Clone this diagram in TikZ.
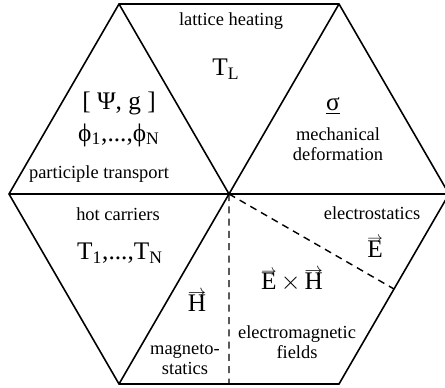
\documentclass[tikz,border=0pt]{standalone}
\usepackage{fontspec}
\setmainfont{Liberation Serif}
\usetikzlibrary{calc}
\newsavebox\vecbox
\newcommand{\fieldvec}[1]{\leavevmode\sbox\vecbox{#1}%
  \rlap{\raisebox{\dimexpr\ht\vecbox-1.2pt\relax}{\resizebox{\wd\vecbox}{!}{$\rightarrow$}}}\usebox\vecbox}
\tikzset{
  hexedge/.style={draw=black, line width=0.9pt, line join=miter},
  split/.style={draw=black, line width=0.8pt, dash pattern=on 4pt off 3pt},
  areatext/.style={font=\fontsize{10.5}{11.5}\selectfont, align=center, inner sep=0pt},
  symtext/.style={font=\Large, align=center, inner sep=0pt}
}
\begin{document}
\begin{tikzpicture}
  \useasboundingbox (0,0) rectangle (8.9,7.74);
  % hexagon corners and centre
  \coordinate (c) at (4.58,3.86);
  \coordinate (e) at (8.98,3.86);
  \coordinate (ne) at (6.78,7.66);
  \coordinate (nw) at (2.38,7.66);
  \coordinate (w) at (0.18,3.86);
  \coordinate (sw) at (2.38,0.06);
  \coordinate (se) at (6.78,0.06);
  \coordinate (sm) at ($(sw)!0.5!(se)$);
  \coordinate (sem) at ($(se)!0.5!(e)$);

  \draw[hexedge] (e) -- (ne) -- (nw) -- (w) -- (sw) -- (se) -- cycle;
  \draw[hexedge] (nw) -- (c) -- (ne);
  \draw[hexedge] (w) -- (e);
  \draw[hexedge] (sw) -- (c);
  \draw[split] (c) -- (sm);
  \draw[split] (c) -- (sem);

  % top
  \node[areatext] (latt) at (4.62,7.32) {lattice heating};
  \node[symtext] (tl) at (4.52,6.36) {T\textsubscript{L}};
  % upper left
  \node[symtext] (psi) at (2.38,5.68) {[ Ψ, g ]};
  \node[symtext] (phi) at (2.38,5.04) {ϕ\textsubscript{1},...,ϕ\textsubscript{N}};
  \node[areatext] (part) at (1.98,4.26) {participle transport};
  % upper right
  \node[symtext] (sig) at (6.66,5.62) {\underline{σ}};
  \node[areatext] (mech) at (6.76,4.86) {mechanical\\deformation};
  % lower left
  \node[areatext] (hot) at (2.36,3.46) {hot carriers};
  \node[symtext] (tn) at (2.40,2.68) {T\textsubscript{1},...,T\textsubscript{N}};
  % bottom
  \node[symtext] (hvec) at (3.94,1.72) {\fieldvec{H}};
  \node[areatext] (magn) at (3.70,0.56) {magneto-\\statics};
  \node[symtext] (exh) at (5.84,2.14) {\fieldvec{E}\,$\times$\,\fieldvec{H}};
  \node[areatext] (emf) at (5.94,0.90) {electromagnetic\\fields};
  % lower right
  \node[areatext] (estat) at (7.44,3.48) {electrostatics};
  \node[symtext] (evec) at (7.50,2.80) {\fieldvec{E}};
\end{tikzpicture}
\end{document}
